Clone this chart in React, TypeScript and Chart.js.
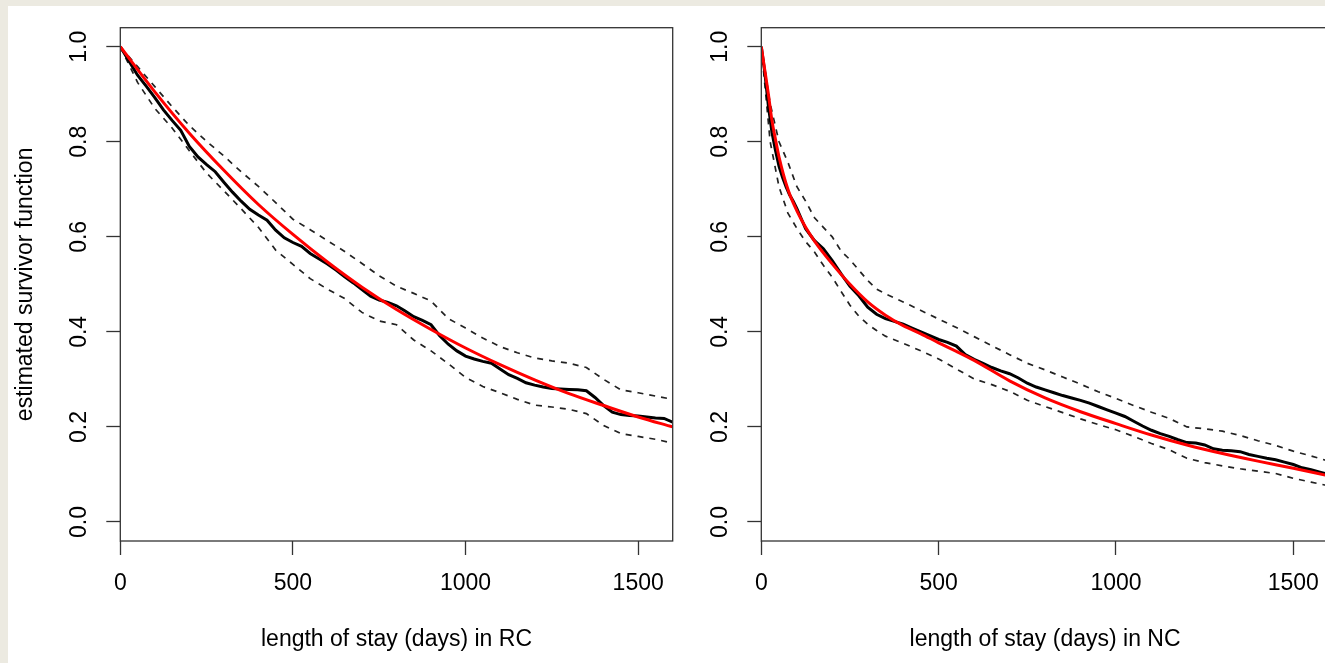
import React, { useEffect, useRef } from 'react';
import { Chart, registerables } from 'chart.js';

Chart.register(...registerables);

const FONT = "'Liberation Sans', Arial, Helvetica, sans-serif";

const xTicks = [0, 500, 1000, 1500];
const yTicks = [0, 0.2, 0.4, 0.6, 0.8, 1.0];

// ---- RC panel (left) ----
const rcKmDays = [0,25,50,75,100,125,150,175,200,225,250,275,300,325,350,375,400,425,450,475,500,525,550,575,600,625,650,675,700,725,750,775,800,825,850,875,900,925,950,975,1000,1025,1050,1075,1100,1125,1150,1175,1200,1225,1250,1275,1300,1325,1350,1375,1400,1425,1450,1475,1500,1525,1550,1575,1600];
const rcKm = [1.000,0.970,0.940,0.917,0.893,0.867,0.845,0.824,0.790,0.768,0.752,0.737,0.715,0.694,0.675,0.658,0.646,0.635,0.614,0.598,0.588,0.580,0.565,0.554,0.543,0.530,0.516,0.503,0.489,0.475,0.467,0.462,0.455,0.444,0.432,0.424,0.415,0.392,0.374,0.360,0.349,0.343,0.338,0.334,0.322,0.310,0.302,0.293,0.288,0.284,0.281,0.280,0.279,0.278,0.276,0.262,0.245,0.231,0.226,0.224,0.223,0.221,0.219,0.218,0.210];
const rcCiDays = [0,50,100,150,200,250,300,350,400,450,500,550,600,650,700,750,800,850,900,950,1000,1050,1100,1150,1200,1250,1300,1350,1400,1450,1500,1550,1600];
const rcUp = [1.000,0.958,0.916,0.874,0.834,0.801,0.770,0.737,0.706,0.672,0.637,0.615,0.592,0.569,0.544,0.518,0.496,0.481,0.465,0.428,0.408,0.387,0.369,0.356,0.345,0.339,0.334,0.325,0.300,0.278,0.272,0.265,0.258];
const rcLo = [1.000,0.925,0.870,0.829,0.781,0.734,0.697,0.659,0.620,0.572,0.542,0.512,0.490,0.470,0.441,0.423,0.415,0.383,0.360,0.333,0.304,0.285,0.272,0.258,0.246,0.242,0.237,0.228,0.203,0.186,0.180,0.174,0.166];
const rcFitDays = [0,100,200,300,400,500,600,700,800,900,1000,1100,1200,1300,1400,1500,1600];
const rcFit = [1.000,0.905,0.818,0.740,0.668,0.605,0.547,0.494,0.447,0.405,0.366,0.331,0.299,0.270,0.245,0.221,0.200];

// ---- NC panel (right) ----
const ncKmDays = [0,10,20,30,40,50,60,70,80,90,100,125,150,175,200,225,250,275,300,325,350,375,400,425,450,475,500,525,550,575,600,625,650,675,700,725,750,775,800,825,850,875,900,925,950,975,1000,1025,1050,1075,1100,1125,1150,1175,1200,1225,1250,1275,1300,1325,1350,1375,1400,1425,1450,1475,1500,1525,1550,1575,1600];
const ncKm = [1.000,0.945,0.875,0.820,0.782,0.748,0.725,0.705,0.688,0.675,0.660,0.617,0.592,0.575,0.550,0.522,0.496,0.476,0.452,0.437,0.428,0.422,0.416,0.408,0.400,0.392,0.384,0.378,0.370,0.352,0.342,0.334,0.325,0.318,0.312,0.303,0.292,0.284,0.278,0.272,0.266,0.261,0.256,0.250,0.243,0.236,0.229,0.222,0.212,0.202,0.193,0.186,0.180,0.173,0.167,0.166,0.162,0.154,0.151,0.150,0.148,0.142,0.138,0.134,0.131,0.126,0.121,0.114,0.110,0.105,0.100];
const ncCiDays = [0,25,50,75,100,125,150,175,200,225,250,275,300,325,350,400,450,500,550,600,650,700,750,800,850,900,950,1000,1050,1100,1150,1200,1250,1300,1350,1400,1450,1500,1550,1600];
const ncUp = [1.000,0.880,0.800,0.757,0.706,0.675,0.640,0.620,0.600,0.570,0.552,0.530,0.508,0.490,0.480,0.463,0.445,0.427,0.409,0.390,0.371,0.352,0.334,0.320,0.305,0.290,0.274,0.260,0.245,0.231,0.218,0.200,0.196,0.191,0.182,0.171,0.161,0.149,0.139,0.128];
const ncLo = [1.000,0.800,0.705,0.650,0.618,0.590,0.568,0.540,0.515,0.485,0.456,0.433,0.416,0.403,0.391,0.376,0.360,0.343,0.322,0.301,0.289,0.275,0.256,0.243,0.230,0.217,0.205,0.194,0.180,0.165,0.152,0.134,0.125,0.118,0.112,0.107,0.102,0.092,0.084,0.076];
const ncFitDays = [0,10,20,30,40,50,75,100,125,150,200,250,300,350,400,450,500,550,600,700,800,900,1000,1100,1200,1300,1400,1500,1600];
const ncFit = [1.000,0.950,0.900,0.845,0.805,0.768,0.700,0.655,0.620,0.591,0.543,0.500,0.463,0.435,0.413,0.396,0.377,0.359,0.340,0.297,0.261,0.232,0.207,0.183,0.162,0.144,0.128,0.113,0.097];

const pts = (days: number[], vals: number[]) => days.map((d, i) => ({ x: d, y: vals[i] }));

const boxPlugin = {
  id: 'rbox',
  afterDatasetsDraw(chart: any) {
    const { ctx, chartArea: a } = chart;
    ctx.save();
    ctx.strokeStyle = '#333';
    ctx.lineWidth = 1.3;
    ctx.strokeRect(a.left, a.top, a.right - a.left, a.bottom - a.top);
    ctx.restore();
  },
};

type PanelProps = {
  left: number;
  width: number;
  padRight: number;
  xTitle: string;
  yTitle: string | null;
  kmDays: number[]; km: number[];
  ciDays: number[]; up: number[]; lo: number[];
  fitDays: number[]; fit: number[];
};

function Panel(p: PanelProps) {
  const ref = useRef<HTMLCanvasElement | null>(null);
  useEffect(() => {
    if (!ref.current) return;
    const chart = new Chart(ref.current, {
      type: 'line',
      data: {
        datasets: [
          { data: pts(p.fitDays, p.fit), borderColor: '#ff0000', borderWidth: 3, pointRadius: 0, cubicInterpolationMode: 'monotone' },
          { data: pts(p.kmDays, p.km), borderColor: '#000000', borderWidth: 3, pointRadius: 0, borderJoinStyle: 'miter' },
          { data: pts(p.ciDays, p.up), borderColor: '#222222', borderWidth: 1.7, borderDash: [6, 6], pointRadius: 0 },
          { data: pts(p.ciDays, p.lo), borderColor: '#222222', borderWidth: 1.7, borderDash: [6, 6], pointRadius: 0 },
        ] as any,
      },
      options: {
        responsive: false,
        animation: false,
        devicePixelRatio: 1,
        layout: { padding: { left: 0, right: p.padRight, top: 27.7, bottom: 0 } },
        plugins: { legend: { display: false }, tooltip: { enabled: false } },
        scales: {
          x: {
            type: 'linear',
            min: 0,
            max: 1600,
            afterBuildTicks: (s: any) => { s.ticks = xTicks.map((v) => ({ value: v })); },
            afterFit: (s: any) => { s.height = 122; },
            grid: { drawOnChartArea: false, drawTicks: true, tickLength: 14, tickWidth: 1.3, tickColor: '#333' },
            border: { display: false },
            ticks: { font: { family: FONT, size: 23 }, color: '#000', padding: 14.7, maxRotation: 0, minRotation: 0, autoSkip: false, callback: (v: any) => String(v) },
            title: { display: true, text: p.xTitle, font: { family: FONT, size: 23 }, color: '#000', padding: { top: 0, bottom: 9.5 } },
          },
          y: {
            type: 'linear',
            min: -0.04,
            max: 1.04,
            afterBuildTicks: (s: any) => { s.ticks = yTicks.map((v) => ({ value: v })); },
            afterFit: (s: any) => { s.width = 120.3; },
            grid: { drawOnChartArea: false, drawTicks: true, tickLength: 14, tickWidth: 1.3, tickColor: '#333' },
            border: { display: false },
            ticks: { font: { family: FONT, size: 23 }, color: '#000', padding: 10.3, minRotation: 90, maxRotation: 90, crossAlign: 'center', autoSkip: false, callback: (v: any) => Number(v).toFixed(1) },
            title: { display: !!p.yTitle, text: p.yTitle || '', font: { family: FONT, size: 23 }, color: '#000', padding: { top: 11.5, bottom: 0 } },
          },
        },
      } as any,
      plugins: [boxPlugin],
    });
    return () => chart.destroy();
  }, []);
  return (
    <canvas
      ref={ref}
      width={p.width}
      height={663}
      style={{ position: 'absolute', left: p.left, top: 0, width: p.width, height: 663 }}
    />
  );
}

export default function App() {
  useEffect(() => {
    document.body.style.margin = '0';
    document.body.style.overflow = 'hidden';
  }, []);
  return (
    <div style={{ position: 'fixed', left: 0, top: 0, width: 1325, height: 663, overflow: 'hidden', background: '#ECEAE1' }}>
      <div style={{ position: 'absolute', left: 8, top: 6, right: 0, bottom: 0, background: '#ffffff' }} />
      <Panel left={0} width={700} padRight={27.3} xTitle="length of stay (days) in RC" yTitle="estimated survivor function"
        kmDays={rcKmDays} km={rcKm} ciDays={rcCiDays} up={rcUp} lo={rcLo} fitDays={rcFitDays} fit={rcFit} />
      <Panel left={641} width={700} padRight={12.2} xTitle="length of stay (days) in NC" yTitle={null}
        kmDays={ncKmDays} km={ncKm} ciDays={ncCiDays} up={ncUp} lo={ncLo} fitDays={ncFitDays} fit={ncFit} />
    </div>
  );
}
